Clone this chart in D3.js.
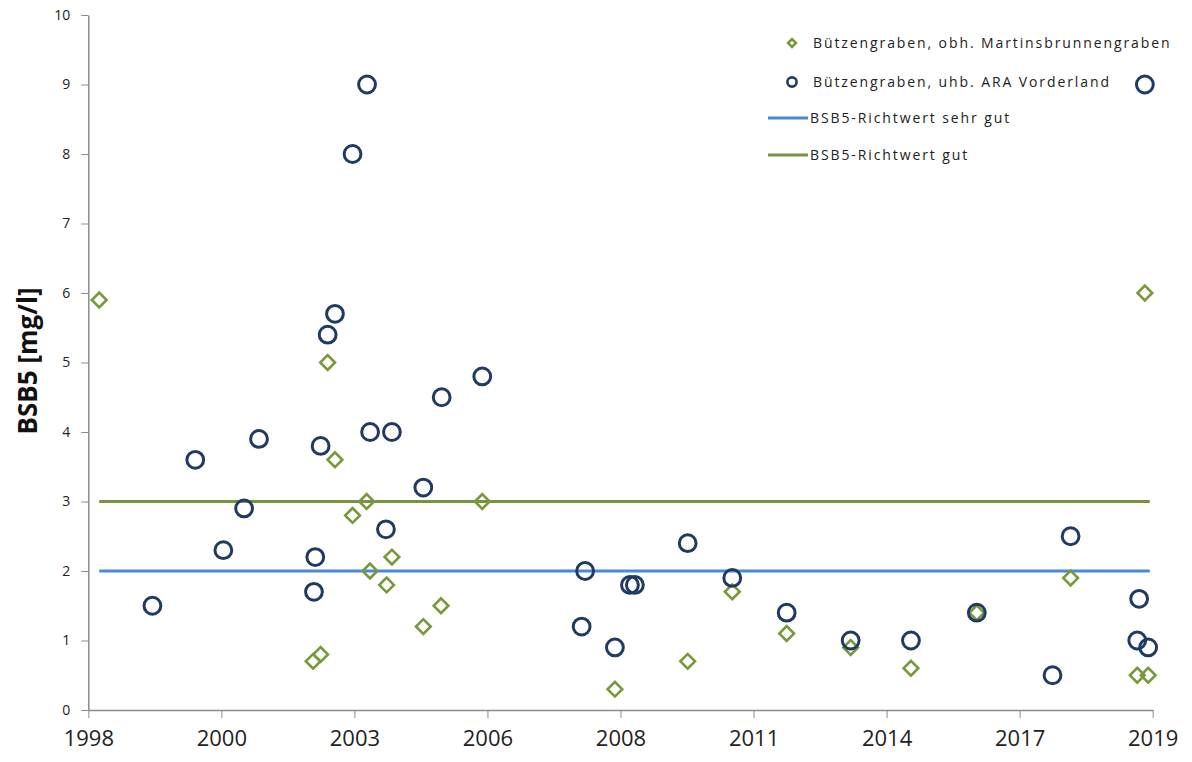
<!DOCTYPE html>
<html>
<head>
<meta charset="utf-8">
<script src="https://cdn.jsdelivr.net/npm/d3@7"></script>
<style>
  body { margin: 0; background: #fff; }
  .axis text { font-family: "Open Sans", sans-serif; fill: #222; }
  .axis path, .axis line { stroke: #8c8c8c; }
  .legend text { font-family: "Open Sans", sans-serif; font-size: 14px; fill: #222; letter-spacing: 1.9px; }
</style>
</head>
<body>
<svg id="chart"></svg>
<script>
// Bützengraben, obh. Martinsbrunnengraben
const obhDates = ["1998-03-24", "2002-08-18", "2002-10-13", "2002-12-05", "2003-01-29", "2003-06-10",
  "2003-09-24", "2003-10-19", "2004-02-21", "2004-04-01", "2004-11-23", "2005-04-05", "2006-02-09",
  "2008-11-02", "2010-05-03", "2011-04-03", "2012-05-16", "2013-09-09", "2014-12-06", "2016-04-14",
  "2018-03-20", "2019-08-03", "2019-09-29", "2019-10-24"];
const obhValues = [5.9, 0.7, 0.8, 5.0, 3.6, 2.8, 3.0, 2.0, 1.8, 2.2, 1.2, 1.5, 3.0,
  0.3, 0.7, 1.7, 1.1, 0.9, 0.6, 1.4, 1.9, 0.5, 6.0, 0.5];

// Bützengraben, uhb. ARA Vorderland
const uhbDates = ["1999-04-28", "2000-03-15", "2000-10-12", "2001-03-17", "2001-07-07", "2002-08-24",
  "2002-09-03", "2002-10-13", "2002-12-05", "2003-01-29", "2003-06-10", "2003-09-27", "2003-10-20",
  "2004-02-16", "2004-04-01", "2004-11-23", "2005-04-10", "2006-02-09", "2008-02-26", "2008-03-23",
  "2008-11-02", "2009-02-23", "2009-04-01", "2010-05-03", "2011-04-03", "2012-05-16", "2013-09-09",
  "2014-12-06", "2016-04-14", "2017-11-04", "2018-03-20", "2019-08-03", "2019-08-17", "2019-09-29",
  "2019-10-24"];
const uhbValues = [1.5, 3.6, 2.3, 2.9, 3.9, 1.7, 2.2, 3.8, 5.4, 5.7, 8.0, 9.0, 4.0,
  2.6, 4.0, 3.2, 4.5, 4.8, 1.2, 2.0, 0.9, 1.8, 1.8, 2.4, 1.9, 1.4, 1.0,
  1.0, 1.4, 0.5, 2.5, 1.0, 1.6, 9.0, 0.9];

// Richtwerte
const lineDates = ["1998-03-24", "2019-11-05"];
const sehrGutValue = 2;
const gutValue = 3;

const xTickDates = ["1998-01-01", "2000-09-27", "2003-06-24", "2006-03-20", "2008-12-14",
  "2011-09-10", "2014-06-06", "2017-03-02", "2019-11-27"];
const xTickLabels = ["1998", "2000", "2003", "2006", "2008", "2011", "2014", "2017", "2019"];
const yTicks = [0, 1, 2, 3, 4, 5, 6, 7, 8, 9, 10];

const legendLabels = ["Bützengraben, obh. Martinsbrunnengraben", "Bützengraben, uhb. ARA Vorderland",
  "BSB5-Richtwert sehr gut", "BSB5-Richtwert gut"];

const parse = d3.utcParse("%Y-%m-%d");
const greenMarker = "#78993a", blueMarker = "#1f3a63", blueLine = "#4a89d9", greenLine = "#77933c";

const W = 1192, H = 762;
const margin = {top: 15, right: 39.3, bottom: 52, left: 88.3};

const svg = d3.select("#chart").attr("width", W).attr("height", H);

const x = d3.scaleUtc()
  .domain([parse(xTickDates[0]), parse(xTickDates[xTickDates.length - 1])])
  .range([margin.left, W - margin.right]);
const y = d3.scaleLinear().domain([0, 10]).range([H - margin.bottom, margin.top]);

// axes
const xAxis = svg.append("g")
  .attr("class", "axis")
  .attr("transform", `translate(0,${y(0)})`)
  .call(d3.axisBottom(x)
    .tickValues(xTickDates.map(parse))
    .tickFormat((d, i) => xTickLabels[i])
    .tickSize(8).tickSizeOuter(0).tickPadding(12));
xAxis.selectAll("text").style("font-size", "22px");
xAxis.select(".domain").attr("stroke-width", 1.5);

const yAxis = svg.append("g")
  .attr("class", "axis")
  .attr("transform", `translate(${margin.left},0)`)
  .call(d3.axisLeft(y).tickValues(yTicks).tickSize(7).tickSizeOuter(0).tickPadding(11));
yAxis.selectAll("text").style("font-size", "14px");
yAxis.select(".domain").attr("stroke-width", 1.5);

svg.append("text")
  .attr("transform", "translate(37,361) rotate(-90)")
  .attr("text-anchor", "middle")
  .style("font-family", "'Open Sans', sans-serif")
  .style("font-weight", "bold")
  .style("font-size", "26px")
  .attr("fill", "#111")
  .text("BSB5 [mg/l]");

// Richtwert lines
const line = d3.line().x(d => x(d[0])).y(d => y(d[1]));
svg.append("path")
  .datum(lineDates.map(d => [parse(d), sehrGutValue]))
  .attr("d", line).attr("fill", "none").attr("stroke", blueLine).attr("stroke-width", 3);
svg.append("path")
  .datum(lineDates.map(d => [parse(d), gutValue]))
  .attr("d", line).attr("fill", "none").attr("stroke", greenLine).attr("stroke-width", 3);

// markers
const diamond = d3.symbol(d3.symbolSquare, 108);
const obh = obhDates.map((d, i) => ({date: parse(d), value: obhValues[i]}));
const uhb = uhbDates.map((d, i) => ({date: parse(d), value: uhbValues[i]}));

svg.append("g").selectAll("path")
  .data(obh)
  .join("path")
  .attr("d", diamond)
  .attr("transform", d => `translate(${x(d.date)},${y(d.value)}) rotate(45)`)
  .attr("fill", "none").attr("stroke", greenMarker).attr("stroke-width", 2.6);

svg.append("g").selectAll("circle")
  .data(uhb)
  .join("circle")
  .attr("cx", d => x(d.date))
  .attr("cy", d => y(d.value))
  .attr("r", 8.4)
  .attr("fill", "none").attr("stroke", blueMarker).attr("stroke-width", 3);

// legend
const legend = svg.append("g").attr("class", "legend");
const legendY = [43, 82, 118, 155];
legend.append("path")
  .attr("d", d3.symbol(d3.symbolSquare, 30))
  .attr("transform", `translate(792,${legendY[0]}) rotate(45)`)
  .attr("fill", "none").attr("stroke", greenMarker).attr("stroke-width", 2.6);
legend.append("circle")
  .attr("cx", 792).attr("cy", legendY[1]).attr("r", 4.6)
  .attr("fill", "none").attr("stroke", blueMarker).attr("stroke-width", 2.6);
legend.append("line")
  .attr("x1", 768).attr("x2", 808).attr("y1", legendY[2]).attr("y2", legendY[2])
  .attr("stroke", blueLine).attr("stroke-width", 3);
legend.append("line")
  .attr("x1", 768).attr("x2", 808).attr("y1", legendY[3]).attr("y2", legendY[3])
  .attr("stroke", greenLine).attr("stroke-width", 3);

legend.selectAll("text")
  .data(legendLabels)
  .join("text")
  .attr("x", (d, i) => i < 2 ? 813 : 810)
  .attr("y", (d, i) => legendY[i])
  .attr("dy", "0.35em")
  .text(d => d);
</script>
</body>
</html>
